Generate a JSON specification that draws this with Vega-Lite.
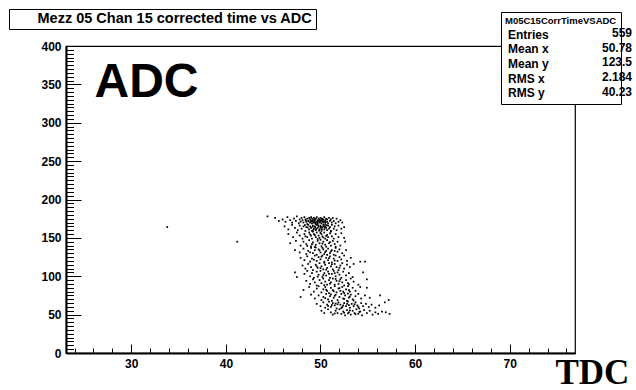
{
"$schema": "https://vega.github.io/schema/vega-lite/v6.json",
"width": 509, "height": 307,
"autosize": "none",
"padding": {"left": 66, "top": 46, "right": 61, "bottom": 37},
"background": "white",
"config": {"view": {"stroke": "black", "strokeWidth": 1.2}, "font": "Liberation Sans"},
"datasets": {
"pts": [
{"TDC":33.8,"ADC":164},{"TDC":41.2,"ADC":145},{"TDC":44.4,"ADC":178},
{"TDC":45.2,"ADC":176},{"TDC":45.6,"ADC":172},{"TDC":46.0,"ADC":174},{"TDC":46.3,"ADC":171},{"TDC":46.5,"ADC":177},{"TDC":46.8,"ADC":173},{"TDC":47.0,"ADC":170},{"TDC":47.2,"ADC":175},{"TDC":47.4,"ADC":172},{"TDC":47.5,"ADC":178},{"TDC":47.7,"ADC":169},{"TDC":47.8,"ADC":174},{"TDC":47.9,"ADC":171},{"TDC":48.0,"ADC":176},{"TDC":48.1,"ADC":173},{"TDC":48.2,"ADC":170},{"TDC":48.3,"ADC":177},{"TDC":48.4,"ADC":174},{"TDC":48.5,"ADC":171},{"TDC":48.6,"ADC":175},{"TDC":48.6,"ADC":168},{"TDC":48.7,"ADC":172},{"TDC":48.8,"ADC":176},{"TDC":48.9,"ADC":170},{"TDC":48.9,"ADC":174},{"TDC":49.0,"ADC":172},{"TDC":49.0,"ADC":177},{"TDC":49.1,"ADC":169},{"TDC":49.1,"ADC":175},{"TDC":49.2,"ADC":171},{"TDC":49.2,"ADC":173},{"TDC":49.3,"ADC":176},{"TDC":49.3,"ADC":170},{"TDC":49.4,"ADC":174},{"TDC":49.4,"ADC":172},{"TDC":49.5,"ADC":168},{"TDC":49.5,"ADC":175},{"TDC":49.6,"ADC":171},{"TDC":49.6,"ADC":177},{"TDC":49.7,"ADC":173},{"TDC":49.7,"ADC":169},{"TDC":49.8,"ADC":175},{"TDC":49.8,"ADC":172},{"TDC":49.9,"ADC":170},{"TDC":49.9,"ADC":174},{"TDC":50.0,"ADC":176},{"TDC":50.0,"ADC":171},{"TDC":50.1,"ADC":173},{"TDC":50.1,"ADC":169},{"TDC":50.2,"ADC":175},{"TDC":50.2,"ADC":172},{"TDC":50.3,"ADC":170},{"TDC":50.3,"ADC":174},{"TDC":50.4,"ADC":177},{"TDC":50.4,"ADC":171},{"TDC":50.5,"ADC":173},{"TDC":50.5,"ADC":168},{"TDC":50.6,"ADC":175},{"TDC":50.7,"ADC":171},{"TDC":50.7,"ADC":174},{"TDC":50.8,"ADC":169},{"TDC":50.9,"ADC":176},{"TDC":51.0,"ADC":172},{"TDC":51.1,"ADC":174},{"TDC":51.2,"ADC":170},{"TDC":51.3,"ADC":176},{"TDC":51.4,"ADC":172},{"TDC":51.6,"ADC":169},{"TDC":51.7,"ADC":175},{"TDC":51.9,"ADC":171},{"TDC":52.1,"ADC":173},{"TDC":52.3,"ADC":170},{"TDC":49.05,"ADC":171.5},{"TDC":49.35,"ADC":173.5},{"TDC":49.65,"ADC":170.5},{"TDC":49.95,"ADC":172.5},{"TDC":50.25,"ADC":171.5},{"TDC":50.55,"ADC":170.5},{"TDC":48.45,"ADC":172.5},{"TDC":48.75,"ADC":171.5},{"TDC":50.15,"ADC":174.5},{"TDC":49.45,"ADC":169.5},
{"TDC":46.2,"ADC":165},{"TDC":46.6,"ADC":161},{"TDC":47.0,"ADC":167},{"TDC":47.3,"ADC":163},{"TDC":47.6,"ADC":160},{"TDC":47.8,"ADC":166},{"TDC":48.0,"ADC":162},{"TDC":48.2,"ADC":165},{"TDC":48.4,"ADC":159},{"TDC":48.5,"ADC":164},{"TDC":48.7,"ADC":167},{"TDC":48.8,"ADC":161},{"TDC":48.9,"ADC":165},{"TDC":49.0,"ADC":163},{"TDC":49.1,"ADC":159},{"TDC":49.2,"ADC":166},{"TDC":49.3,"ADC":162},{"TDC":49.4,"ADC":165},{"TDC":49.5,"ADC":160},{"TDC":49.6,"ADC":167},{"TDC":49.7,"ADC":163},{"TDC":49.8,"ADC":165},{"TDC":49.9,"ADC":161},{"TDC":50.0,"ADC":166},{"TDC":50.0,"ADC":163},{"TDC":50.1,"ADC":159},{"TDC":50.2,"ADC":164},{"TDC":50.3,"ADC":167},{"TDC":50.4,"ADC":161},{"TDC":50.5,"ADC":165},{"TDC":50.6,"ADC":163},{"TDC":50.7,"ADC":160},{"TDC":50.8,"ADC":166},{"TDC":50.9,"ADC":162},{"TDC":51.0,"ADC":164},{"TDC":51.1,"ADC":159},{"TDC":51.2,"ADC":167},{"TDC":51.4,"ADC":162},{"TDC":51.5,"ADC":165},{"TDC":51.7,"ADC":160},{"TDC":51.9,"ADC":166},{"TDC":52.2,"ADC":162},{"TDC":52.5,"ADC":164},{"TDC":49.15,"ADC":164.5},{"TDC":49.45,"ADC":163.5},{"TDC":49.75,"ADC":166.5},{"TDC":50.15,"ADC":161.5},{"TDC":50.35,"ADC":165.5},{"TDC":48.65,"ADC":163.5},{"TDC":49.55,"ADC":161.5},{"TDC":50.65,"ADC":166.5},{"TDC":49.85,"ADC":159.5},{"TDC":48.35,"ADC":166.5},{"TDC":50.05,"ADC":164.5},{"TDC":49.25,"ADC":160.5},{"TDC":50.45,"ADC":163.5},
{"TDC":46.6,"ADC":155},{"TDC":47.1,"ADC":151},{"TDC":47.5,"ADC":157},{"TDC":47.8,"ADC":153},{"TDC":48.1,"ADC":149},{"TDC":48.3,"ADC":155},{"TDC":48.6,"ADC":151},{"TDC":48.8,"ADC":157},{"TDC":49.0,"ADC":153},{"TDC":49.1,"ADC":149},{"TDC":49.3,"ADC":155},{"TDC":49.5,"ADC":151},{"TDC":49.6,"ADC":157},{"TDC":49.8,"ADC":153},{"TDC":49.9,"ADC":150},{"TDC":50.1,"ADC":155},{"TDC":50.2,"ADC":152},{"TDC":50.4,"ADC":157},{"TDC":50.5,"ADC":149},{"TDC":50.7,"ADC":154},{"TDC":50.8,"ADC":151},{"TDC":51.0,"ADC":156},{"TDC":51.2,"ADC":152},{"TDC":51.4,"ADC":149},{"TDC":51.6,"ADC":155},{"TDC":51.9,"ADC":151},{"TDC":52.2,"ADC":156},{"TDC":52.5,"ADC":150},{"TDC":49.4,"ADC":153.5},{"TDC":50.0,"ADC":156.5},{"TDC":50.3,"ADC":150.5},{"TDC":49.7,"ADC":148.5},{"TDC":48.9,"ADC":154.5},{"TDC":50.6,"ADC":152.5},{"TDC":51.1,"ADC":158},{"TDC":49.2,"ADC":158},{"TDC":48.4,"ADC":152},
{"TDC":46.8,"ADC":143},{"TDC":47.4,"ADC":146},{"TDC":47.9,"ADC":140},{"TDC":48.2,"ADC":145},{"TDC":48.5,"ADC":142},{"TDC":48.8,"ADC":147},{"TDC":49.0,"ADC":139},{"TDC":49.2,"ADC":144},{"TDC":49.5,"ADC":141},{"TDC":49.7,"ADC":146},{"TDC":49.9,"ADC":143},{"TDC":50.1,"ADC":139},{"TDC":50.3,"ADC":145},{"TDC":50.5,"ADC":141},{"TDC":50.7,"ADC":147},{"TDC":50.9,"ADC":143},{"TDC":51.1,"ADC":140},{"TDC":51.3,"ADC":146},{"TDC":51.5,"ADC":142},{"TDC":51.8,"ADC":145},{"TDC":52.1,"ADC":140},{"TDC":52.6,"ADC":145},{"TDC":49.4,"ADC":138},{"TDC":50.0,"ADC":147.5},{"TDC":50.6,"ADC":138.5},{"TDC":49.1,"ADC":142},{"TDC":51.0,"ADC":144.5},{"TDC":48.6,"ADC":139.5},{"TDC":50.2,"ADC":142.5},{"TDC":51.6,"ADC":138.5},
{"TDC":47.3,"ADC":134},{"TDC":47.8,"ADC":131},{"TDC":48.2,"ADC":136},{"TDC":48.5,"ADC":129},{"TDC":48.7,"ADC":133},{"TDC":49.0,"ADC":137},{"TDC":49.2,"ADC":130},{"TDC":49.4,"ADC":134},{"TDC":49.6,"ADC":128},{"TDC":49.8,"ADC":135},{"TDC":50.0,"ADC":131},{"TDC":50.2,"ADC":137},{"TDC":50.4,"ADC":129},{"TDC":50.6,"ADC":133},{"TDC":50.8,"ADC":136},{"TDC":51.0,"ADC":130},{"TDC":51.2,"ADC":134},{"TDC":51.4,"ADC":128},{"TDC":51.6,"ADC":137},{"TDC":51.8,"ADC":132},{"TDC":52.0,"ADC":135},{"TDC":52.3,"ADC":130},{"TDC":52.7,"ADC":134},{"TDC":49.9,"ADC":133.5},{"TDC":50.5,"ADC":131.5},{"TDC":51.1,"ADC":132.5},{"TDC":48.9,"ADC":131},{"TDC":50.3,"ADC":135},{"TDC":51.5,"ADC":133},{"TDC":49.5,"ADC":137.5},
{"TDC":47.9,"ADC":124},{"TDC":48.3,"ADC":121},{"TDC":48.6,"ADC":126},{"TDC":48.9,"ADC":119},{"TDC":49.1,"ADC":123},{"TDC":49.4,"ADC":127},{"TDC":49.6,"ADC":120},{"TDC":49.8,"ADC":125},{"TDC":50.0,"ADC":122},{"TDC":50.2,"ADC":127},{"TDC":50.4,"ADC":119},{"TDC":50.6,"ADC":124},{"TDC":50.8,"ADC":121},{"TDC":51.0,"ADC":126},{"TDC":51.2,"ADC":118},{"TDC":51.4,"ADC":123},{"TDC":51.6,"ADC":127},{"TDC":51.8,"ADC":120},{"TDC":52.0,"ADC":125},{"TDC":52.2,"ADC":122},{"TDC":52.5,"ADC":127},{"TDC":52.8,"ADC":120},{"TDC":53.2,"ADC":124},{"TDC":54.2,"ADC":119},{"TDC":54.7,"ADC":119},{"TDC":50.1,"ADC":125.5},{"TDC":50.9,"ADC":123.5},{"TDC":51.5,"ADC":120.5},{"TDC":49.3,"ADC":121.5},{"TDC":50.7,"ADC":128},
{"TDC":48.1,"ADC":114},{"TDC":48.4,"ADC":110},{"TDC":48.7,"ADC":116},{"TDC":49.0,"ADC":112},{"TDC":49.2,"ADC":108},{"TDC":49.5,"ADC":115},{"TDC":49.7,"ADC":111},{"TDC":49.9,"ADC":117},{"TDC":50.1,"ADC":113},{"TDC":50.3,"ADC":109},{"TDC":50.5,"ADC":115},{"TDC":50.7,"ADC":111},{"TDC":50.9,"ADC":117},{"TDC":51.1,"ADC":113},{"TDC":51.3,"ADC":109},{"TDC":51.5,"ADC":116},{"TDC":51.7,"ADC":112},{"TDC":51.9,"ADC":108},{"TDC":52.1,"ADC":114},{"TDC":52.3,"ADC":117},{"TDC":52.5,"ADC":110},{"TDC":52.8,"ADC":115},{"TDC":53.1,"ADC":112},{"TDC":53.5,"ADC":116},{"TDC":49.6,"ADC":113},{"TDC":50.6,"ADC":108.5},{"TDC":51.2,"ADC":115.5},{"TDC":50.0,"ADC":110.5},{"TDC":52.0,"ADC":111},{"TDC":50.4,"ADC":117.5},
{"TDC":47.3,"ADC":105},{"TDC":47.5,"ADC":99},{"TDC":48.3,"ADC":103},{"TDC":48.6,"ADC":107},{"TDC":48.9,"ADC":100},{"TDC":49.1,"ADC":104},{"TDC":49.3,"ADC":98},{"TDC":49.6,"ADC":106},{"TDC":49.8,"ADC":102},{"TDC":50.0,"ADC":107},{"TDC":50.2,"ADC":99},{"TDC":50.4,"ADC":104},{"TDC":50.6,"ADC":101},{"TDC":50.8,"ADC":106},{"TDC":51.0,"ADC":98},{"TDC":51.2,"ADC":103},{"TDC":51.4,"ADC":107},{"TDC":51.6,"ADC":100},{"TDC":51.8,"ADC":105},{"TDC":52.0,"ADC":102},{"TDC":52.2,"ADC":98},{"TDC":52.4,"ADC":106},{"TDC":52.7,"ADC":101},{"TDC":53.0,"ADC":104},{"TDC":53.4,"ADC":99},{"TDC":54.5,"ADC":105},{"TDC":50.9,"ADC":103},{"TDC":51.5,"ADC":104},{"TDC":49.7,"ADC":99.5},{"TDC":50.3,"ADC":101.5},
{"TDC":48.5,"ADC":94},{"TDC":48.9,"ADC":90},{"TDC":49.2,"ADC":96},{"TDC":49.4,"ADC":92},{"TDC":49.6,"ADC":88},{"TDC":49.9,"ADC":95},{"TDC":50.1,"ADC":91},{"TDC":50.3,"ADC":97},{"TDC":50.5,"ADC":93},{"TDC":50.7,"ADC":89},{"TDC":50.9,"ADC":95},{"TDC":51.1,"ADC":92},{"TDC":51.3,"ADC":97},{"TDC":51.5,"ADC":89},{"TDC":51.7,"ADC":94},{"TDC":51.9,"ADC":90},{"TDC":52.1,"ADC":96},{"TDC":52.3,"ADC":92},{"TDC":52.5,"ADC":88},{"TDC":52.7,"ADC":95},{"TDC":52.9,"ADC":91},{"TDC":53.2,"ADC":97},{"TDC":53.5,"ADC":93},{"TDC":54.0,"ADC":89},{"TDC":54.9,"ADC":96},{"TDC":51.0,"ADC":90.5},{"TDC":51.6,"ADC":96.5},{"TDC":50.4,"ADC":88.5},{"TDC":52.0,"ADC":93.5},{"TDC":53.0,"ADC":89.5},
{"TDC":48.2,"ADC":82},{"TDC":48.8,"ADC":86},{"TDC":49.3,"ADC":80},{"TDC":49.6,"ADC":84},{"TDC":49.8,"ADC":87},{"TDC":50.1,"ADC":79},{"TDC":50.3,"ADC":83},{"TDC":50.5,"ADC":86},{"TDC":50.7,"ADC":81},{"TDC":50.9,"ADC":78},{"TDC":51.1,"ADC":85},{"TDC":51.3,"ADC":82},{"TDC":51.5,"ADC":87},{"TDC":51.7,"ADC":79},{"TDC":51.9,"ADC":84},{"TDC":52.1,"ADC":81},{"TDC":52.3,"ADC":86},{"TDC":52.5,"ADC":78},{"TDC":52.7,"ADC":83},{"TDC":52.9,"ADC":87},{"TDC":53.1,"ADC":80},{"TDC":53.4,"ADC":85},{"TDC":53.7,"ADC":81},{"TDC":54.2,"ADC":86},{"TDC":54.9,"ADC":85},{"TDC":51.4,"ADC":80.5},{"TDC":52.0,"ADC":84.5},{"TDC":50.6,"ADC":82.5},{"TDC":53.0,"ADC":82},{"TDC":52.4,"ADC":80},
{"TDC":47.9,"ADC":73},{"TDC":49.0,"ADC":76},{"TDC":49.4,"ADC":71},{"TDC":49.8,"ADC":75},{"TDC":50.1,"ADC":69},{"TDC":50.3,"ADC":73},{"TDC":50.6,"ADC":77},{"TDC":50.8,"ADC":70},{"TDC":51.0,"ADC":74},{"TDC":51.2,"ADC":68},{"TDC":51.4,"ADC":72},{"TDC":51.6,"ADC":76},{"TDC":51.8,"ADC":69},{"TDC":52.0,"ADC":73},{"TDC":52.2,"ADC":77},{"TDC":52.4,"ADC":71},{"TDC":52.6,"ADC":75},{"TDC":52.8,"ADC":68},{"TDC":53.0,"ADC":72},{"TDC":53.2,"ADC":76},{"TDC":53.4,"ADC":70},{"TDC":53.7,"ADC":74},{"TDC":54.0,"ADC":77},{"TDC":54.3,"ADC":71},{"TDC":54.7,"ADC":75},{"TDC":55.2,"ADC":72},{"TDC":56.3,"ADC":75},{"TDC":57.2,"ADC":69},{"TDC":51.5,"ADC":74.5},{"TDC":52.5,"ADC":70.5},{"TDC":53.1,"ADC":73.5},{"TDC":51.1,"ADC":76.5},{"TDC":52.9,"ADC":77.5},{"TDC":50.5,"ADC":71.5},{"TDC":53.5,"ADC":68.5},
{"TDC":49.6,"ADC":64},{"TDC":50.0,"ADC":61},{"TDC":50.3,"ADC":66},{"TDC":50.5,"ADC":59},{"TDC":50.7,"ADC":63},{"TDC":50.9,"ADC":67},{"TDC":51.1,"ADC":60},{"TDC":51.3,"ADC":65},{"TDC":51.5,"ADC":62},{"TDC":51.7,"ADC":58},{"TDC":51.9,"ADC":66},{"TDC":52.1,"ADC":63},{"TDC":52.3,"ADC":60},{"TDC":52.5,"ADC":65},{"TDC":52.7,"ADC":61},{"TDC":52.9,"ADC":67},{"TDC":53.1,"ADC":59},{"TDC":53.3,"ADC":64},{"TDC":53.5,"ADC":61},{"TDC":53.7,"ADC":66},{"TDC":53.9,"ADC":62},{"TDC":54.1,"ADC":58},{"TDC":54.3,"ADC":65},{"TDC":54.5,"ADC":61},{"TDC":54.8,"ADC":64},{"TDC":55.1,"ADC":60},{"TDC":55.4,"ADC":63},{"TDC":55.8,"ADC":59},{"TDC":56.2,"ADC":62},{"TDC":56.8,"ADC":66},{"TDC":51.2,"ADC":62.5},{"TDC":51.8,"ADC":63.5},{"TDC":52.4,"ADC":62},{"TDC":52.2,"ADC":58.5},{"TDC":53.0,"ADC":62.5},{"TDC":53.6,"ADC":63.5},{"TDC":52.8,"ADC":64},{"TDC":54.0,"ADC":60},{"TDC":51.6,"ADC":64.5},{"TDC":50.8,"ADC":61.5},
{"TDC":50.1,"ADC":55},{"TDC":50.4,"ADC":52},{"TDC":50.8,"ADC":57},{"TDC":51.1,"ADC":53},{"TDC":51.3,"ADC":50},{"TDC":51.6,"ADC":55},{"TDC":51.8,"ADC":52},{"TDC":52.0,"ADC":57},{"TDC":52.2,"ADC":51},{"TDC":52.4,"ADC":54},{"TDC":52.6,"ADC":49},{"TDC":52.8,"ADC":56},{"TDC":53.0,"ADC":53},{"TDC":53.2,"ADC":50},{"TDC":53.4,"ADC":55},{"TDC":53.6,"ADC":52},{"TDC":53.8,"ADC":57},{"TDC":54.0,"ADC":51},{"TDC":54.2,"ADC":54},{"TDC":54.4,"ADC":49},{"TDC":54.6,"ADC":56},{"TDC":54.9,"ADC":52},{"TDC":55.2,"ADC":55},{"TDC":55.5,"ADC":50},{"TDC":55.8,"ADC":53},{"TDC":56.1,"ADC":51},{"TDC":56.5,"ADC":54},{"TDC":56.9,"ADC":53},{"TDC":57.3,"ADC":51},{"TDC":52.5,"ADC":52.5},{"TDC":53.1,"ADC":55.5},{"TDC":53.7,"ADC":50.5},{"TDC":52.9,"ADC":51.5},{"TDC":54.1,"ADC":53.5},{"TDC":51.5,"ADC":51.5}
],
"stats": [
{"name":"Entries","val":"559"},{"name":"Mean x","val":"50.78"},{"name":"Mean y","val":"123.5"},{"name":"RMS x","val":"2.184"},{"name":"RMS y","val":"40.23"}
],
"ttl": [{"title":"Mezz 05 Chan 15 corrected time vs ADC"}]
},
"resolve": {"axis": {"x": "independent", "y": "independent"}},
"layer": [
{
"data": {"name": "pts"},
"mark": {"type": "point", "opacity": 0},
"encoding": {
"x": {"field": "TDC", "type": "quantitative", "scale": {"domain": [23.1, 76.9], "nice": false, "zero": false},
 "axis": {"orient": "bottom", "values": [24,26,28,30,32,34,36,38,40,42,44,46,48,50,52,54,56,58,60,62,64,66,68,70,72,74,76], "tickSize": -5, "tickColor": "black", "tickWidth": 1, "labels": false, "domain": false, "grid": false, "title": null}},
"y": {"field": "ADC", "type": "quantitative", "scale": {"domain": [0, 400], "nice": false},
 "axis": {"orient": "left", "values": [0,5,10,15,20,25,30,35,40,45,50,55,60,65,70,75,80,85,90,95,100,105,110,115,120,125,130,135,140,145,150,155,160,165,170,175,180,185,190,195,200,205,210,215,220,225,230,235,240,245,250,255,260,265,270,275,280,285,290,295,300,305,310,315,320,325,330,335,340,345,350,355,360,365,370,375,380,385,390,395,400], "tickSize": -7.5, "tickColor": "black", "tickWidth": 1, "labels": false, "domain": false, "grid": false, "title": null}}
}
},
{
"data": {"name": "pts"},
"mark": {"type": "square", "size": 3, "color": "black", "opacity": 1},
"encoding": {
"x": {"field": "TDC", "type": "quantitative",
 "axis": {"orient": "bottom", "values": [30,40,50,60,70], "tickSize": -9, "tickColor": "black", "tickWidth": 1, "domainColor": "black", "domainWidth": 2, "grid": false,
  "labelFont": "Liberation Sans", "labelFontWeight": "bold", "labelFontSize": 12, "labelColor": "black", "labelPadding": 14,
  "title": "TDC", "titleFont": "Liberation Serif", "titleFontWeight": "bold", "titleFontSize": 35, "titleColor": "black",
  "titleX": 489, "titleY": 37, "titleAlign": "left", "titleBaseline": "bottom"}},
"y": {"field": "ADC", "type": "quantitative",
 "axis": {"orient": "left", "values": [0,50,100,150,200,250,300,350,400], "tickSize": -15, "tickColor": "black", "tickWidth": 1, "domainColor": "black", "domainWidth": 2, "grid": false,
  "labelFont": "Liberation Sans", "labelFontWeight": "bold", "labelFontSize": 12, "labelColor": "black", "labelPadding": 20,
  "title": "ADC", "titleFont": "Liberation Sans", "titleFontWeight": "bold", "titleFontSize": 48, "titleColor": "black", "titleAngle": 0,
  "titleX": 28, "titleY": 50, "titleAlign": "left", "titleBaseline": "alphabetic"}}
}
},
{
"data": {"name": "stats"},
"mark": {"type": "point", "opacity": 0},
"encoding": {
"color": {"field": "name", "type": "nominal", "scale": {"domain": ["Entries","Mean x","Mean y","RMS x","RMS y"], "range": ["black","black","black","black","black"]},
 "legend": {"orient": "none", "legendX": 435, "legendY": -34, "title": "M05C15CorrTimeVSADC", "titleFont": "Liberation Sans", "titleFontSize": 9.5, "titleFontWeight": "bold", "titleColor": "black", "titleAnchor": "start", "titlePadding": 3,
  "labelFont": "Liberation Sans", "labelFontSize": 12, "labelFontWeight": "bold", "labelColor": "black", "labelLimit": 400, "labelOffset": -9,
  "symbolSize": 1, "symbolOpacity": 0, "symbolStrokeWidth": 0, "rowPadding": 2.7, "padding": 4, "strokeColor": "black", "fillColor": "white", "cornerRadius": 0}},
"shape": {"field": "val", "type": "nominal", "scale": {"domain": ["559","50.78","123.5","2.184","40.23"]},
 "legend": {"orient": "none", "legendX": 550, "legendY": -22, "title": null,
  "labelFont": "Liberation Sans", "labelFontSize": 12, "labelFontWeight": "bold", "labelColor": "black", "labelAlign": "right", "labelOffset": 1, "labelLimit": 200,
  "symbolSize": 1, "symbolOpacity": 0, "symbolStrokeWidth": 0, "rowPadding": 2.7, "padding": 3}}
}
},
{
"data": {"name": "ttl"},
"mark": {"type": "point", "opacity": 0},
"encoding": {
"strokeDash": {"field": "title", "type": "nominal",
 "legend": {"orient": "none", "legendX": -57, "legendY": -37, "title": null,
  "labelFont": "Liberation Sans", "labelFontSize": 14.5, "labelFontWeight": "bold", "labelColor": "black", "labelLimit": 500, "labelOffset": 11,
  "symbolType": "circle", "symbolSize": 1, "symbolOpacity": 0, "symbolStrokeWidth": 0, "padding": 3, "strokeColor": "black", "fillColor": "white", "cornerRadius": 0}}
}
}
]
}
